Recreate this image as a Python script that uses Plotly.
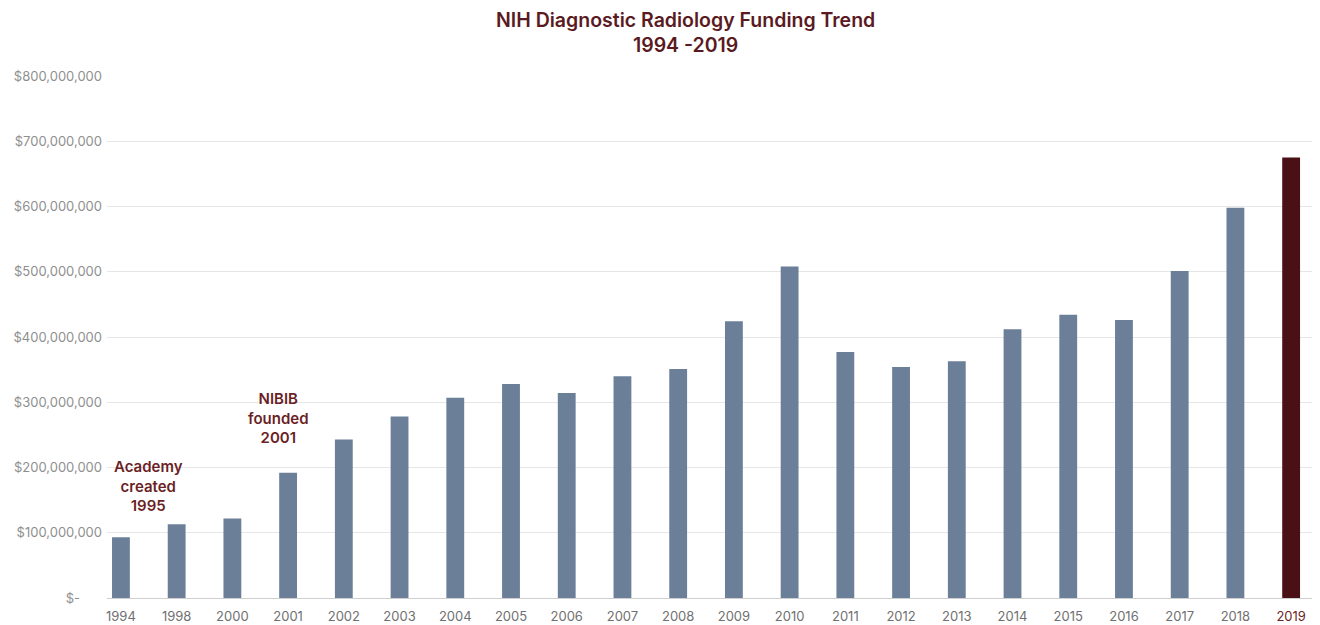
import plotly.graph_objects as go

years = ["1994", "1998", "2000", "2001", "2002", "2003", "2004", "2005", "2006", "2007", "2008",
         "2009", "2010", "2011", "2012", "2013", "2014", "2015", "2016", "2017", "2018", "2019"]
funding = [93e6, 113e6, 122e6, 192e6, 243e6, 278e6, 307e6, 328e6, 314e6, 340e6, 351e6,
           424e6, 508e6, 377e6, 354e6, 363e6, 412e6, 434e6, 426e6, 501e6, 598e6, 675e6]
tick_vals = [0, 100e6, 200e6, 300e6, 400e6, 500e6, 600e6, 700e6, 800e6]
tick_text = ["$-" + "\u00a0" * 6, "$100,000,000", "$200,000,000", "$300,000,000", "$400,000,000",
             "$500,000,000", "$600,000,000", "$700,000,000", "$800,000,000"]

BLUE = "#6b7f99"
MAROON = "#4a1016"
colors = [BLUE] * (len(years) - 1) + [MAROON]

fig = go.Figure(go.Bar(x=years, y=funding, marker=dict(color=colors, line=dict(width=0)),
                       width=0.32, hoverinfo="x+y"))

fig.update_layout(
    width=1312, height=617,
    margin=dict(l=99, r=1, t=68, b=17),
    paper_bgcolor="white", plot_bgcolor="white",
    font=dict(family="Inter, Lato, sans-serif", color="#777"),
    showlegend=False,
    bargap=0.68,
)
fig.add_annotation(text="NIH Diagnostic Radiology Funding Trend<br>1994 -2019",
                   xref="paper", yref="paper", x=0.477, y=1.0 + 71 / 532, xanchor="center",
                   yanchor="top", showarrow=False, align="center",
                   font=dict(size=19.5, color="#5a1a22", weight=600))
fig.update_xaxes(type="category", range=[-0.25, 21.5], showgrid=False,
                 tickfont=dict(size=13, color="#707070"), ticks="outside", ticklen=6,
                 tickcolor="rgba(0,0,0,0)", showline=False,
                 tickmode="array", tickvals=years,
                 ticktext=[y if y != "2019" else "<span style='color:#6b1f26'>2019</span>" for y in years])
fig.update_yaxes(range=[0, 800e6], tickmode="array", tickvals=tick_vals, ticktext=tick_text,
                 showgrid=True, gridcolor="#e6e6e6", gridwidth=1,
                 zeroline=True, zerolinecolor="#cfcfcf", zerolinewidth=1,
                 tickfont=dict(size=13, color="#8f8f8f"), ticks="", ticklabelstandoff=4)

ann_color = "#6b1f26"
fig.add_annotation(x=0.5, y=172e6, xref="x", yref="y", text="Academy<br>created<br>1995",
                   showarrow=False, font=dict(size=15, color=ann_color, weight=600), align="center")
fig.add_annotation(x=2.82, y=276e6, xref="x", yref="y", text="NIBIB<br>founded<br>2001",
                   showarrow=False, font=dict(size=15, color=ann_color, weight=600), align="center")

fig.write_html("out.html")
